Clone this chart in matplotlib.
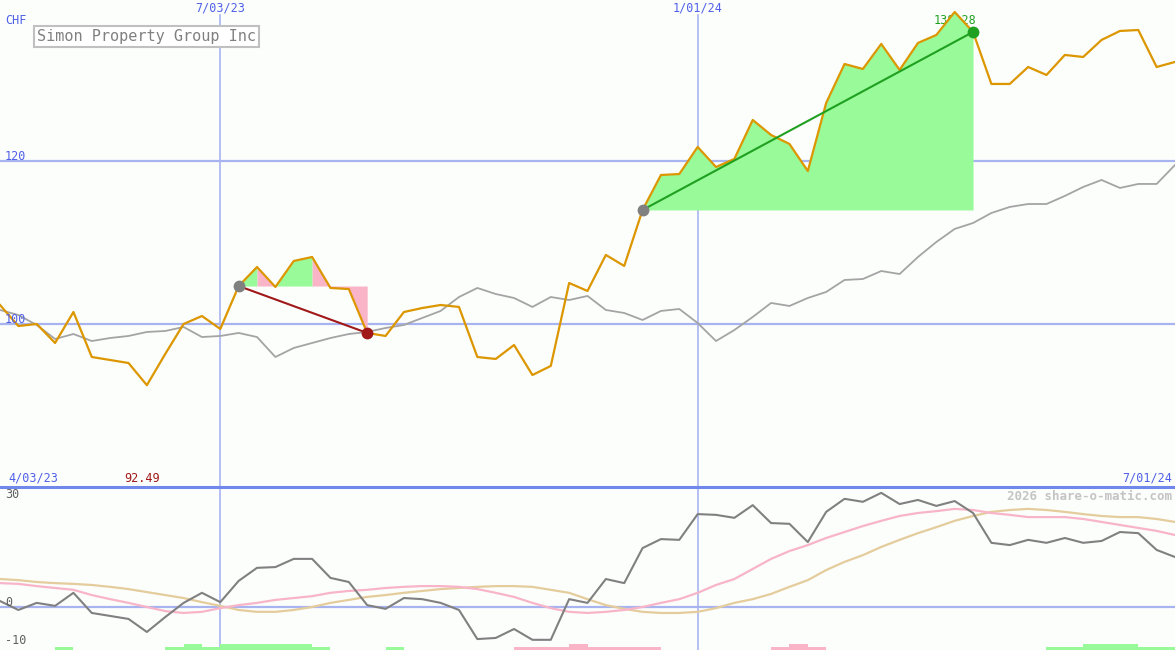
import matplotlib
matplotlib.use('Agg')
import matplotlib.pyplot as plt
from matplotlib.lines import Line2D
import pandas as pd

# weekly closes, Simon Property Group Inc (CHF)
dates = pd.date_range('2023-04-10', periods=65, freq='7D')
price = [102.33, 99.75, 100.0, 97.67, 101.47, 95.95, 95.58, 95.21, 92.49, 96.32,
         100.0, 100.98, 99.39, 104.66, 106.99, 104.54, 107.73, 108.22, 104.42, 104.29,
         98.90, 98.53, 101.47, 101.96, 102.33, 102.09, 95.95, 95.71, 97.42, 93.74,
         94.85, 105.03, 104.05, 108.47, 107.12, 113.99, 118.28, 118.40, 121.72, 119.26,
         120.25, 125.03, 123.19, 122.09, 118.77, 127.12, 131.90, 131.29, 134.36, 131.17,
         134.48, 135.46, 138.28, 135.83, 129.45, 129.45, 131.53, 130.55, 133.01, 132.76,
         134.85, 135.95, 136.07, 131.53, 132.15]
bench = [101.72, 101.10, 99.88, 98.16, 98.77, 97.91, 98.28, 98.53, 99.02, 99.14,
         99.63, 98.40, 98.53, 98.90, 98.40, 95.95, 97.06, 97.67, 98.28, 98.77,
         99.02, 99.51, 99.88, 100.74, 101.60, 103.31, 104.42, 103.68, 103.19, 102.09,
         103.31, 102.94, 103.44, 101.72, 101.35, 100.49, 101.60, 101.84, 100.12, 97.91,
         99.26, 100.86, 102.58, 102.21, 103.19, 103.93, 105.40, 105.52, 106.50, 106.13,
         108.22, 110.06, 111.66, 112.39, 113.62, 114.36, 114.72, 114.72, 115.71, 116.81,
         117.67, 116.69, 117.18, 117.18, 119.51]

# oscillator panel
momentum = [1.6, -0.8, 1.1, 0.3, 3.8, -1.6, -2.4, -3.2, -6.7, -2.7,
            1.1, 3.8, 1.3, 7.0, 10.5, 10.7, 12.9, 12.9, 7.8, 6.7,
            0.5, -0.5, 2.4, 2.1, 1.1, -0.8, -8.6, -8.3, -5.9, -8.8,
            -8.8, 2.1, 1.1, 7.5, 6.4, 15.8, 18.2, 18.0, 24.9, 24.7,
            23.9, 27.3, 22.5, 22.3, 17.4, 25.5, 29.0, 28.2, 30.6, 27.6,
            28.7, 27.1, 28.4, 25.2, 17.2, 16.6, 18.0, 17.2, 18.5, 17.2,
            17.7, 20.1, 19.8, 15.3, 13.4]
avg_fast = [6.4, 6.2, 5.6, 5.1, 4.6, 3.2, 2.1, 1.1, 0.0, -1.1,
            -1.6, -1.3, -0.3, 0.5, 1.1, 1.9, 2.4, 2.9, 3.8, 4.3,
            4.6, 5.1, 5.4, 5.6, 5.6, 5.4, 4.8, 3.8, 2.7, 1.1,
            -0.3, -1.3, -1.6, -1.3, -0.8, 0.0, 1.1, 2.1, 3.8, 5.9,
            7.5, 10.2, 12.9, 15.0, 16.6, 18.5, 20.1, 21.7, 23.1, 24.4,
            25.2, 25.7, 26.3, 26.0, 25.2, 24.7, 24.1, 24.1, 24.1, 23.6,
            22.8, 22.0, 21.2, 20.4, 19.3]
avg_slow = [7.5, 7.2, 6.7, 6.4, 6.2, 5.9, 5.4, 4.8, 4.0, 3.2,
            2.4, 1.3, 0.3, -0.8, -1.3, -1.3, -0.8, 0.0, 1.1, 1.9,
            2.7, 3.2, 3.8, 4.3, 4.8, 5.1, 5.4, 5.6, 5.6, 5.4,
            4.6, 3.8, 2.1, 0.5, -0.5, -1.3, -1.6, -1.6, -1.3, -0.3,
            1.1, 2.1, 3.5, 5.4, 7.2, 9.9, 12.1, 13.9, 16.1, 18.0,
            19.8, 21.4, 23.1, 24.4, 25.5, 26.0, 26.3, 26.0, 25.5, 24.9,
            24.4, 24.1, 24.1, 23.6, 22.8]
# weekly signal bars: +2/+1 green, -2/-1 pink
signal = [0, 0, 0, 1, 0, 0, 0, 0, 0, 1,
          2, 1, 2, 2, 2, 2, 2, 1, 0, 0,
          0, 1, 0, 0, 0, 0, 0, 0, -1, -1,
          -1, -2, -1, -1, -1, -1, 0, 0, 0, 0,
          0, 0, -1, -2, -1, 0, 0, 0, 0, 0,
          0, 0, 0, 0, 0, 0, 0, 1, 1, 2,
          2, 2, 1, 1, 0]

# trends: start week, end week, colour of segment fills
trend1 = (13, 20)
trend1_fill = ['g', 'p', 'g', 'g', 'p', 'p', 'p']
trend2 = (35, 53)
trend2_fill = ['g'] * 18

month_lines = ['2023-07-03', '2024-01-01']
month_labels = ['7/03/23', '1/01/24']

BG = '#fcfefc'
BLUE_TXT = '#5060e8'
GRID = '#a8b4f0'
GREEN_FILL = '#98fa98'
PINK_FILL = '#fab4c8'

plt.rcParams['font.family'] = 'DejaVu Sans Mono'

fig = plt.figure(figsize=(11.75, 6.5), dpi=100, facecolor=BG)
ax = fig.add_axes([0, 163 / 650, 1, 487 / 650])
ax2 = fig.add_axes([0, 0, 1, 163 / 650])
for a in (ax, ax2):
    a.set_facecolor(BG)
    a.axis('off')
    a.set_xlim(dates[0], dates[-1])
ax.set_ylim(80, 139.75)
ax2.set_ylim(-11.53, 32.17)

# grid
for v in (100, 120):
    ax.axhline(v, color=GRID, lw=1.6, zorder=1)
ax2.axhline(0, color=GRID, lw=1.6, zorder=1)
for d in month_lines:
    ax.axvline(pd.Timestamp(d), color=GRID, lw=1.2, ymax=1 - 15 / 487, zorder=1)
    ax2.axvline(pd.Timestamp(d), color=GRID, lw=1.2, zorder=1)

# benchmark
ax.plot(dates, bench, color='#a4a4a4', lw=1.3, zorder=2)

# trend fills, one polygon per run of same colour
colmap = {'g': GREEN_FILL, 'p': PINK_FILL}
for (s, e), fills, lc in ((trend1, trend1_fill, '#a01818'), (trend2, trend2_fill, '#20a020')):
    base = price[s]
    i = s
    while i < e:
        c = fills[i - s]
        j = i
        while j < e and fills[j - s] == c:
            j += 1
        ax.fill_between(dates[i:j + 1], base, price[i:j + 1],
                        color=colmap[c], lw=0, zorder=3)
        i = j
    ax.plot([dates[s], dates[e]], [price[s], price[e]], color=lc, lw=1.5, zorder=5)
    ax.plot(dates[s], price[s], 'o', ms=8.5, color='#808080', mec='none', zorder=6)
    ax.plot(dates[e], price[e], 'o', ms=8.5, color=lc, mec='none', zorder=6)

ax.plot(dates, price, color='#dc9600', lw=1.6, zorder=4)

# max / min labels
pmax, pmin = max(price), min(price)
ax.text(dates[price.index(pmax)], pmax - 1.0, '%.2f' % pmax,
        color='#20a020', fontsize=8.5, ha='center', va='center', zorder=2.5)
fig.text(142 / 1175, 1 - 478 / 650, '%.2f' % pmin, color='#a01818',
         fontsize=8.5, ha='center', va='center')

# axis texts
fig.text(5 / 1175, 1 - 20 / 650, 'CHF', color=BLUE_TXT, fontsize=8.5, va='center')
fig.text(5 / 1175, 1 - 156 / 650, '120', color=BLUE_TXT, fontsize=8.5, va='center')
fig.text(5 / 1175, 1 - 319 / 650, '100', color=BLUE_TXT, fontsize=8.5, va='center', zorder=0)
for d, lab in zip(month_lines, month_labels):
    x = (pd.Timestamp(d) - dates[0]) / (dates[-1] - dates[0])
    fig.text(x, 1 - 8 / 650, lab, color=BLUE_TXT, fontsize=8.5, ha='center', va='center')
fig.text(8 / 1175, 1 - 478 / 650, '4/03/23', color=BLUE_TXT, fontsize=8.5, va='center')
fig.text(1172 / 1175, 1 - 478 / 650, '7/01/24', color=BLUE_TXT, fontsize=8.5,
         ha='right', va='center')

fig.text(37 / 1175, 1 - 36.5 / 650, 'Simon Property Group Inc', color='#808080',
         fontsize=11, va='center',
         bbox=dict(boxstyle='square,pad=0.22', fc='white', ec='#c0c0c0', lw=1.5))

# separator
fig.add_artist(Line2D([0, 1], [163 / 650, 163 / 650], color='#7088ec', lw=2.2))

# lower panel
ax2.plot(dates, avg_slow, color='#e4cc9c', lw=1.6, zorder=3)
ax2.plot(dates, avg_fast, color='#f8b4c8', lw=1.6, zorder=3)
ax2.plot(dates, momentum, color='#808080', lw=1.5, zorder=4)
for i, s in enumerate(signal):
    if s == 0:
        continue
    ax2.bar(dates[i], abs(s) * 0.8, width=7, bottom=-11.53, align='edge',
            color=GREEN_FILL if s > 0 else PINK_FILL, lw=0, zorder=2)

for txt, py in (('30', 495), ('0', 602), ('-10', 641)):
    fig.text(5 / 1175, 1 - py / 650, txt, color='#606060', fontsize=8.5, va='center')
fig.text(1172 / 1175, 1 - 496 / 650, '2026 share-o-matic.com', color='#c4c4c4',
         fontsize=9, fontweight='bold', ha='right', va='center')

fig.savefig('out.png', dpi=100, facecolor=BG)
